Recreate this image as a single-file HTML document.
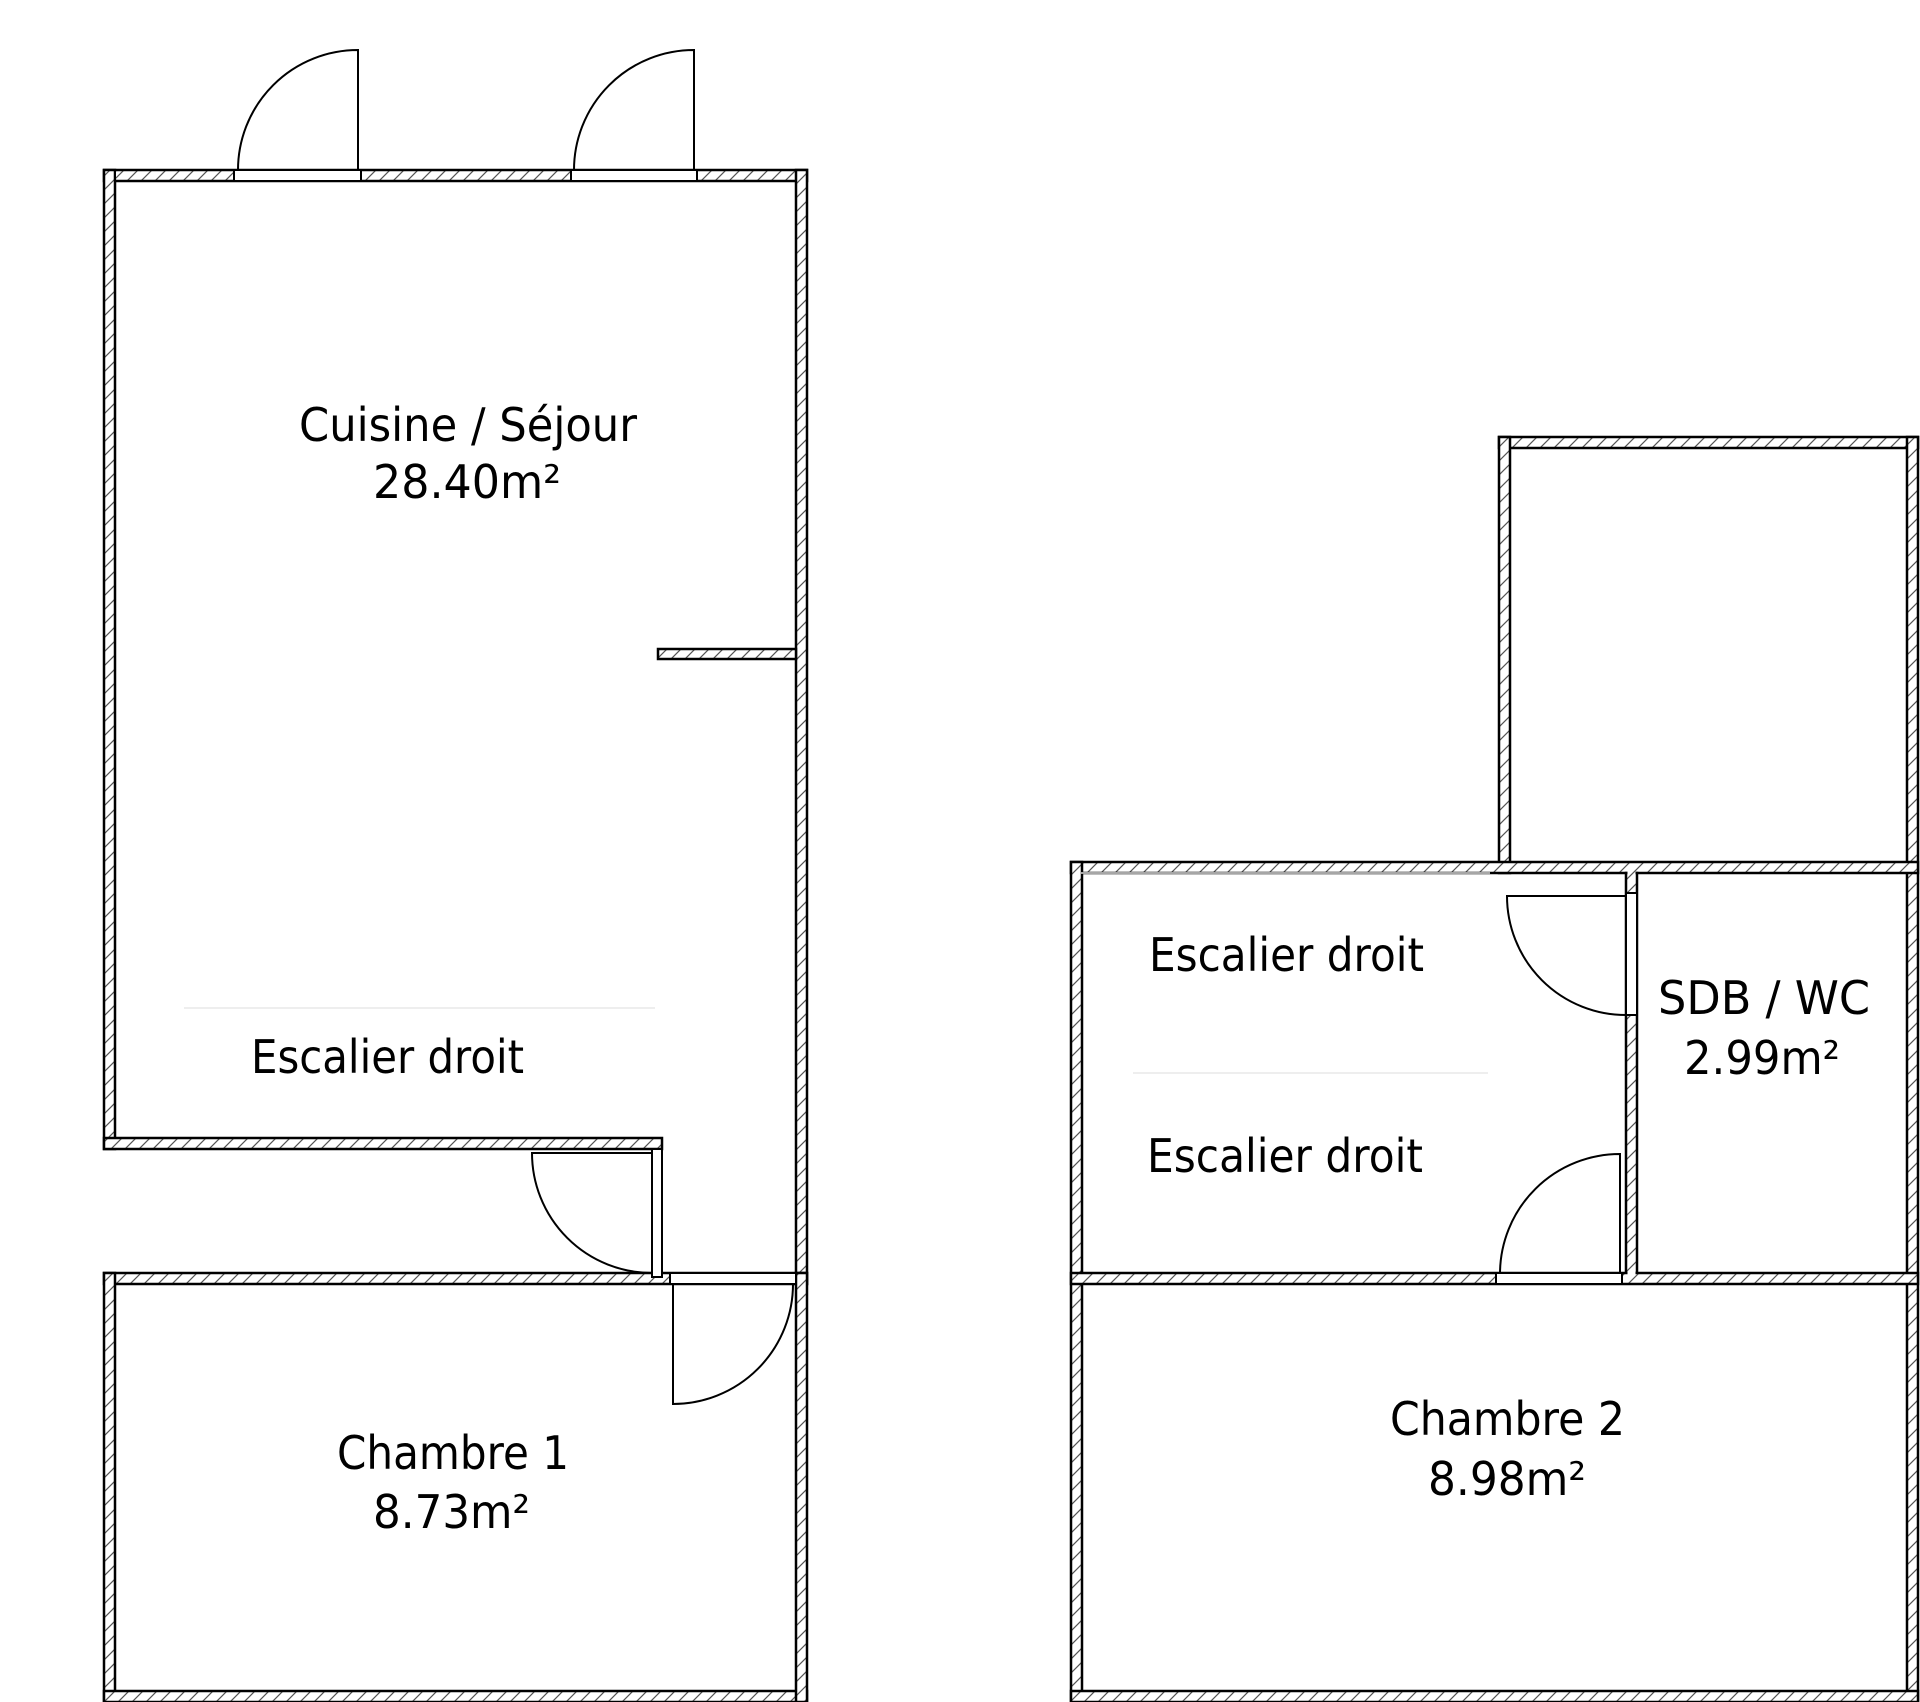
<!DOCTYPE html>
<html><head><meta charset="utf-8"><style>
html,body{margin:0;padding:0;background:#fff;}
svg{display:block;}
text{font-family:"DejaVu Sans","Liberation Sans",sans-serif;font-size:46px;fill:#000;}
</style></head><body>
<svg width="1920" height="1702" viewBox="0 0 1920 1702" xmlns="http://www.w3.org/2000/svg">
<defs>
<pattern id="h" patternUnits="userSpaceOnUse" width="14" height="14">
<rect width="14" height="14" fill="#fff"/>
<path d="M-3,17 L17,-3 M-10,10 L10,-10 M4,24 L24,4" stroke="#555" stroke-width="1.2"/>
</pattern>
</defs>
<g id="walls" stroke="#000" stroke-width="2.5">
<rect x="104" y="170" width="703" height="11" fill="url(#h)"/>
<rect x="104" y="170" width="11" height="979" fill="url(#h)"/>
<rect x="104" y="1138" width="558" height="11" fill="url(#h)"/>
<rect x="796" y="170" width="11" height="1114" fill="url(#h)"/>
<rect x="658" y="649" width="138" height="10" fill="url(#h)"/>
<rect x="104" y="1273" width="703" height="11" fill="url(#h)"/>
<rect x="104" y="1273" width="11" height="429" fill="url(#h)"/>
<rect x="104" y="1691" width="703" height="11" fill="url(#h)"/>
<rect x="796" y="1273" width="11" height="429" fill="url(#h)"/>
<rect x="1499" y="437" width="419" height="11" fill="url(#h)"/>
<rect x="1499" y="437" width="11" height="436" fill="url(#h)"/>
<rect x="1907" y="437" width="11" height="1265" fill="url(#h)"/>
<rect x="1071" y="862" width="847" height="11" fill="url(#h)"/>
<rect x="1071" y="862" width="11" height="840" fill="url(#h)"/>
<rect x="1626" y="873" width="11" height="400" fill="url(#h)"/>
<rect x="1071" y="1273" width="847" height="11" fill="url(#h)"/>
<rect x="1071" y="1691" width="847" height="11" fill="url(#h)"/>
</g>
<g fill="url(#h)">
<rect x="116" y="171.5" width="6" height="8"/>
<rect x="105.5" y="1139.5" width="8" height="8"/>
<rect x="797.5" y="650.5" width="8" height="7"/>
<rect x="797.5" y="1274.5" width="8" height="8"/>
<rect x="105.5" y="1274.5" width="8" height="8"/>
<rect x="105.5" y="1692.5" width="8" height="8"/>
<rect x="797.5" y="1692.5" width="8" height="8"/>
<rect x="1500.5" y="863.5" width="8" height="8"/>
<rect x="1908.5" y="863.5" width="8" height="8"/>
<rect x="1908.5" y="449" width="8" height="8"/>
<rect x="1072.5" y="863.5" width="8" height="8"/>
<rect x="1627.5" y="863.5" width="8" height="20"/>
<rect x="1627.5" y="1265" width="8" height="17.5"/>
<rect x="1072.5" y="1274.5" width="8" height="8"/>
<rect x="1908.5" y="1274.5" width="8" height="8"/>
<rect x="1072.5" y="1692.5" width="8" height="8"/>
<rect x="1908.5" y="1692.5" width="8" height="8"/>
</g>
<line x1="184" y1="1008" x2="655" y2="1008" stroke="#eee" stroke-width="2"/>
<line x1="1133" y1="1073" x2="1488" y2="1073" stroke="#eee" stroke-width="2"/>
<line x1="1081" y1="873" x2="1490" y2="873" stroke="#ddd" stroke-width="1.5"/>
<g fill="#fff" stroke="#000" stroke-width="2">
<rect x="234" y="170" width="127" height="11"/>
<rect x="571" y="170" width="126" height="11"/>
<rect x="670" y="1273" width="126" height="11"/>
<rect x="652" y="1149" width="10" height="128"/>
<rect x="1626" y="893" width="11" height="122"/>
<rect x="1496" y="1273" width="126" height="11"/>
</g>
<g fill="none" stroke="#000" stroke-width="2">
<path d="M358,170 L358,50 A120,120 0 0 0 238,170"/>
<path d="M694,170 L694,50 A120,120 0 0 0 574,170"/>
<path d="M652,1153 L532,1153 A120,120 0 0 0 652,1273"/>
<path d="M673,1284 L673,1404 A120,120 0 0 0 793,1284"/>
<path d="M1626,896 L1507,896 A119,119 0 0 0 1626,1015"/>
<path d="M1620,1273 L1620,1154 A120,120 0 0 0 1500,1273"/>
</g>
<text x="299" y="441" textLength="338" lengthAdjust="spacingAndGlyphs">Cuisine / Séjour</text>
<text x="373" y="498" textLength="188" lengthAdjust="spacingAndGlyphs">28.40m²</text>
<text x="251" y="1073" textLength="273" lengthAdjust="spacingAndGlyphs">Escalier droit</text>
<text x="337" y="1469" textLength="232" lengthAdjust="spacingAndGlyphs">Chambre 1</text>
<text x="373" y="1528" textLength="157" lengthAdjust="spacingAndGlyphs">8.73m²</text>
<text x="1149" y="971" textLength="275" lengthAdjust="spacingAndGlyphs">Escalier droit</text>
<text x="1147" y="1172" textLength="276" lengthAdjust="spacingAndGlyphs">Escalier droit</text>
<text x="1658" y="1014" textLength="212" lengthAdjust="spacingAndGlyphs">SDB / WC</text>
<text x="1684" y="1074" textLength="156" lengthAdjust="spacingAndGlyphs">2.99m²</text>
<text x="1390" y="1435" textLength="235" lengthAdjust="spacingAndGlyphs">Chambre 2</text>
<text x="1428" y="1495" textLength="158" lengthAdjust="spacingAndGlyphs">8.98m²</text>
</svg>
</body></html>
